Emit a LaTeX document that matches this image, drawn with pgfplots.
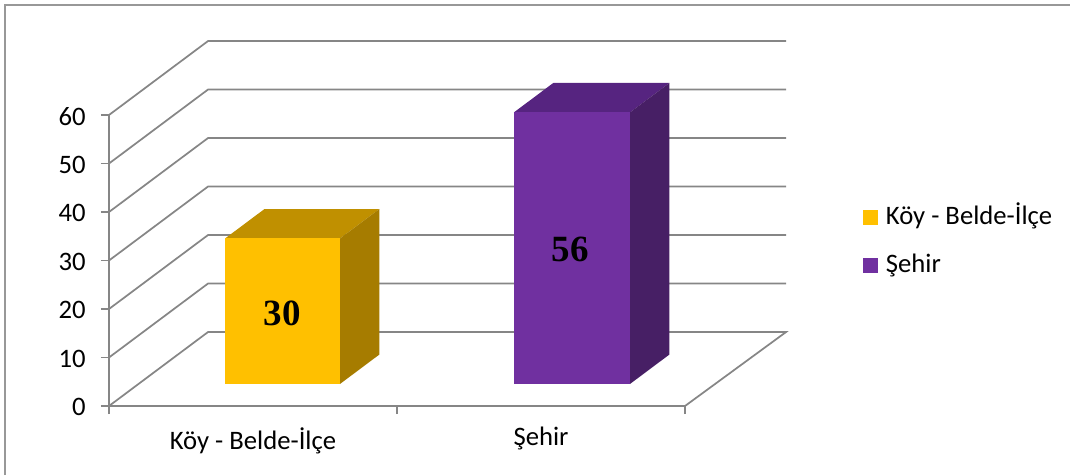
\documentclass[border=0pt]{standalone}
\usepackage{fontspec}
\setmainfont{Carlito}
\newfontfamily\labelfont{Liberation Serif}
\usepackage{pgfplots}
\pgfplotsset{compat=1.18}
\definecolor{wallgray}{HTML}{868686}
\definecolor{yfront}{HTML}{FFC000}
\definecolor{ytop}{HTML}{C09000}
\definecolor{yside}{HTML}{A67C00}
\definecolor{pfront}{HTML}{7030A0}
\definecolor{ptop}{HTML}{562480}
\definecolor{pside}{HTML}{471F65}
% 1 px = 0.75 pt; x unit = 288 px, y unit = 4.85 px
\begin{document}
\begin{tikzpicture}
\useasboundingbox (-81.75pt,-51.75pt) rectangle +(802.5pt,356.25pt);
\begin{axis}[
	scale only axis,
	width=432pt,
	height=218.25pt,
	xmin=0, xmax=2,
	ymin=0, ymax=60,
	clip=false,
	axis lines=left,
	axis line style={wallgray,line width=1.3pt,-},
	tick align=outside,
	xtick={0.5,1.5},
	xticklabels={Köy - Belde-İlçe,Şehir},
	minor xtick={0,1,2},
	ytick={0,10,...,60},
	major x tick style={draw=none},
	minor x tick style={wallgray,line width=1.3pt},
	minor tick length=6pt,
	major y tick style={wallgray,line width=1.3pt},
	major tick length=6pt,
	/pgf/number format/assume math mode=true,
	tick label style={font=\fontsize{20}{24}\selectfont,black},
	xticklabel style={yshift=-6.5pt},
	yticklabel style={xshift=-8pt,yshift=-1pt},
	legend image code/.code={\fill[#1,draw=none] (0,0) rectangle (11.25pt,11.25pt);\path[fill=none,draw=none] (0,0) rectangle (17pt,11.25pt);},
	legend style={
		draw=none,fill=none,
		at={(axis cs:2.618,41.3)},anchor=north west,
		font=\fontsize{20}{24}\selectfont,
		row sep=18pt,inner sep=0pt,
		nodes={inner sep=0pt,anchor=base west,text height=14pt,text depth=4pt,xshift=3pt}},
	legend cell align=left,
]
% side wall, back wall and floor
\addplot[forget plot,wallgray,line width=1.3pt] coordinates {(0,0) (0.344,15.26) (2.351,15.26) (2,0)};
\addplot[forget plot,wallgray,line width=1.3pt] coordinates {(0,10) (0.344,25.26) (2.351,25.26)};
\addplot[forget plot,wallgray,line width=1.3pt] coordinates {(0,20) (0.344,35.26) (2.351,35.26)};
\addplot[forget plot,wallgray,line width=1.3pt] coordinates {(0,30) (0.344,45.26) (2.351,45.26)};
\addplot[forget plot,wallgray,line width=1.3pt] coordinates {(0,40) (0.344,55.26) (2.351,55.26)};
\addplot[forget plot,wallgray,line width=1.3pt] coordinates {(0,50) (0.344,65.26) (2.351,65.26)};
\addplot[forget plot,wallgray,line width=1.3pt] coordinates {(0,60) (0.344,75.26) (2.351,75.26)};
% first bar, value 30 above the raised base at 4.54
\addplot[forget plot,fill=ytop,draw=none] coordinates {(0.403,34.54) (0.802,34.54) (0.939,40.62) (0.540,40.62)};
\addplot[forget plot,fill=yside,draw=none] coordinates {(0.802,4.54) (0.939,10.62) (0.939,40.62) (0.802,34.54)};
\addplot[fill=yfront,draw=none] coordinates {(0.403,4.54) (0.802,4.54) (0.802,34.54) (0.403,34.54)};
\addlegendentry{Köy - Belde-İlçe}
% second bar, value 56
\addplot[forget plot,fill=ptop,draw=none] coordinates {(1.406,60.54) (1.809,60.54) (1.946,66.62) (1.543,66.62)};
\addplot[forget plot,fill=pside,draw=none] coordinates {(1.809,4.54) (1.946,10.62) (1.946,66.62) (1.809,60.54)};
\addplot[fill=pfront,draw=none] coordinates {(1.406,4.54) (1.809,4.54) (1.809,60.54) (1.406,60.54)};
\addlegendentry{Şehir}
\node[font=\labelfont\bfseries\fontsize{27.75}{30}\selectfont] at (axis cs:0.602,19.2) {30};
\node[font=\labelfont\bfseries\fontsize{27.75}{30}\selectfont] at (axis cs:1.602,32.2) {56};
% chart frame, left and top edges only
\draw[wallgray!85,line width=1.5pt] (axis cs:-0.361,-14.23) -- (axis cs:-0.361,82.78) -- (axis cs:3.337,82.78);
\end{axis}
\end{tikzpicture}
\end{document}
